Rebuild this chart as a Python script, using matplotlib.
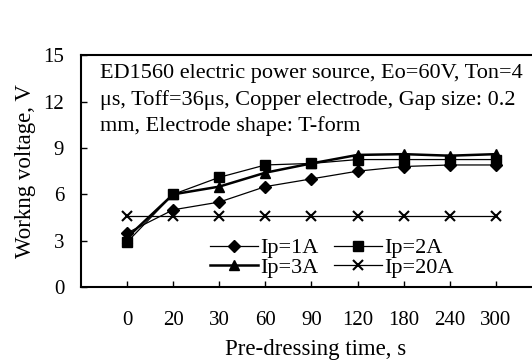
import matplotlib.pyplot as plt
import numpy as np

plt.rcParams['font.family'] = ['Liberation Serif', 'DejaVu Serif']

# pre-dressing time categories
times = ['0', '20', '30', '60', '90', '120', '180', '240', '300']
ip1 = [3.5, 5.0, 5.5, 6.5, 7.0, 7.5, 7.8, 7.9, 7.9]
ip2 = [2.9, 6.0, 7.1, 7.9, 8.0, 8.25, 8.25, 8.25, 8.25]
ip3 = [3.2, 6.0, 6.5, 7.4, 8.0, 8.55, 8.6, 8.5, 8.6]
ip20 = [4.6, 4.6, 4.6, 4.6, 4.6, 4.6, 4.6, 4.6, 4.6]

x = np.arange(1, len(times) + 1)

fig = plt.figure(figsize=(5.32, 3.63), dpi=100)
ax = fig.add_axes([0.152, 0.209, 0.867, 0.639])

l1, = ax.plot(x, ip1, color='black', lw=0.9, marker='D', ms=6, label='Ip=1A')
l2, = ax.plot(x, ip2, color='black', lw=0.9, marker='s', ms=7.5, label='Ip=2A')
l3, = ax.plot(x, ip3, color='black', lw=1.8, marker='^', ms=7.5, label='Ip=3A')
l4, = ax.plot(x, ip20, color='black', lw=0.9, marker='x', ms=7, mew=1.5, label='Ip=20A')

ax.set_xlim(0, 10)
ax.set_ylim(0, 15)
ax.set_xticks(x)
ax.set_xticklabels(times)
ax.set_yticks([0, 3, 6, 9, 12, 15])
ax.tick_params(direction='in', length=4, labelsize=15, width=1)
ax.tick_params(axis='x', pad=17)
ax.tick_params(axis='y', pad=12)
for s in ax.spines.values():
    s.set_linewidth(1.5)

ax.text(0.041, 0.96,
        'ED1560 electric power source, Eo=60V, Ton=4\n'
        'μs, Toff=36μs, Copper electrode, Gap size: 0.2\n'
        'mm, Electrode shape: T-form',
        transform=ax.transAxes, va='top', ha='left', fontsize=16,
        linespacing=1.42)

# row-major order: 1A, 2A / 3A, 20A
ax.legend([l1, l3, l2, l4], ['Ip=1A', 'Ip=3A', 'Ip=2A', 'Ip=20A'],
          ncol=2, loc='lower left', bbox_to_anchor=(0.28, 0.04), frameon=False,
          fontsize=16, handlelength=2.15, handletextpad=0.1, columnspacing=0.7,
          labelspacing=-0.05, borderaxespad=0, borderpad=0)

ax.set_ylabel('Workng voltage, V', fontsize=16.5)
ax.yaxis.set_label_coords(-0.098, 0.5)
ax.set_xlabel('Pre-dressing time, s', fontsize=16.5)
ax.xaxis.set_label_coords(0.508, -0.225)

fig.savefig('out.png', dpi=100)
